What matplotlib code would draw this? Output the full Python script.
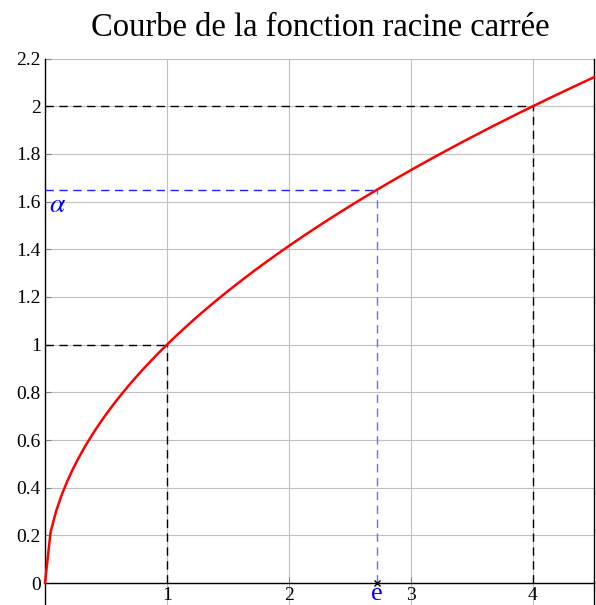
import numpy as np
import matplotlib
matplotlib.use('Agg')
import matplotlib.pyplot as plt

# Data
x_samples = np.linspace(0, 4.5, 100)
y_samples = np.sqrt(x_samples)
x_ticks = [1, 2, 3, 4]
y_ticks = [0, 0.2, 0.4, 0.6, 0.8, 1, 1.2, 1.4, 1.6, 1.8, 2, 2.2]
y_tick_labels = ['0', '0.2', '0.4', '0.6', '0.8', '1', '1.2', '1.4', '1.6', '1.8', '2', '2.2']
black_points = [(1, 1), (4, 2)]
e_val = np.e
alpha_val = np.sqrt(np.e)

plt.rcParams['font.family'] = ['Liberation Serif', 'DejaVu Serif']
plt.rcParams['mathtext.fontset'] = 'stix'

fig = plt.figure(figsize=(5.96, 6.05), dpi=100)
ax = fig.add_axes([45/596, 0, 549/596, 1 - 58.5/605])

ax.set_xlim(0, 4.5)
ax.set_ylim(-0.092, 2.2)

ax.grid(True, color='#c0c0c0', lw=0.8)
ax.set_axisbelow(True)

ax.spines['top'].set_visible(False)
ax.spines['bottom'].set_position(('data', 0))
ax.spines['left'].set_position(('data', 0))
for s in ['bottom', 'left', 'right']:
    ax.spines[s].set_linewidth(1.0)
    ax.spines[s].set_color('black')

ax.set_xticks(x_ticks)
ax.set_xticklabels([str(t) for t in x_ticks])
ax.set_yticks(y_ticks)
ax.set_yticklabels(y_tick_labels)
ax.tick_params(direction='in', length=4, color='#808080', labelsize=14, pad=3)
ax.tick_params(axis='y', right=False)

# dashed guide lines
for px, py in black_points:
    ax.plot([0, px], [py, py], color='black', lw=1, dashes=(6, 4))
    ax.plot([px, px], [0, py], color='black', lw=1, dashes=(6, 4))
ax.plot([0, e_val], [alpha_val, alpha_val], color='#2020ff', lw=1, dashes=(6, 4))
ax.plot([e_val, e_val], [0, alpha_val], color='#6b6bff', lw=1, dashes=(6, 4))

# curve
ax.plot(x_samples, y_samples, color='red', lw=1.8, clip_on=False, zorder=5)

ax.plot([e_val], [0], marker='x', color='black', ms=5, mew=1, zorder=6, clip_on=False)
ax.text(e_val, 0.0, 'e', color='blue', fontsize=19, ha='center', va='top')
ax.text(0.03, alpha_val - 0.012, r'$\alpha$', color='blue', fontsize=20, ha='left', va='top')

fig.text(320/596, 1 - 12/605, 'Courbe de la fonction racine carrée',
         fontsize=23.5, ha='center', va='top')

fig.savefig('out.png', dpi=100)
